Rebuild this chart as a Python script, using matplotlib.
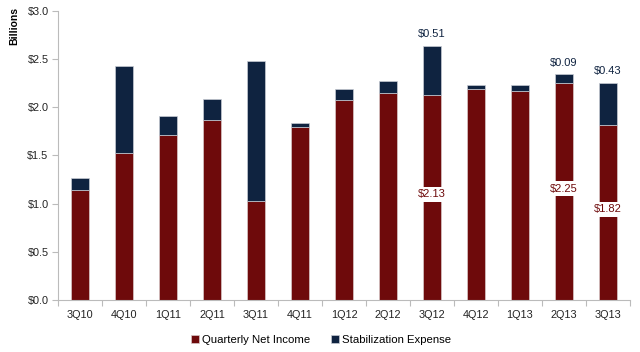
import numpy as np
import matplotlib
matplotlib.use("Agg")
import matplotlib.pyplot as plt
from matplotlib.ticker import FixedLocator, FuncFormatter

quarters = ["3Q10", "4Q10", "1Q11", "2Q11", "3Q11", "4Q11", "1Q12",
            "2Q12", "3Q12", "4Q12", "1Q13", "2Q13", "3Q13"]
net_income = [1.14, 1.52, 1.71, 1.87, 1.03, 1.79, 2.07, 2.15, 2.13, 2.19, 2.17, 2.25, 1.82]
stabilization = [0.13, 0.91, 0.20, 0.22, 1.45, 0.05, 0.12, 0.12, 0.51, 0.04, 0.06, 0.09, 0.43]
labelled = ["3Q12", "2Q13", "3Q13"]

RED = "#6E0A0B"
NAVY = "#0F2340"

plt.rcParams["font.family"] = ["Liberation Sans", "DejaVu Sans"]
plt.rcParams["font.size"] = 7.8

fig = plt.figure(figsize=(6.4, 3.52), dpi=100)
ax = fig.add_axes([0.091, 0.148, 0.893, 0.821])

x = np.arange(len(quarters))
ax.bar(x, net_income, width=0.42, color=RED, edgecolor="#d8c8c8", linewidth=0.5,
       label="Quarterly Net Income", zorder=2)
ax.bar(x, stabilization, width=0.42, bottom=net_income, color=NAVY, edgecolor="#c8ccd4",
       linewidth=0.5, label="Stabilization Expense", zorder=2)

for i, q in enumerate(quarters):
    if q in labelled:
        top = net_income[i] + stabilization[i]
        ax.text(i, top + 0.07, f"${stabilization[i]:.2f}", ha="center", va="bottom",
                color=NAVY, fontsize=8)
        ax.text(i, net_income[i] / 2 + 0.03, f"${net_income[i]:.2f}", ha="center", va="center",
                color=RED, fontsize=8,
                bbox=dict(boxstyle="square,pad=0.2", fc="white", ec="none"), zorder=3)

ax.set_xlim(-0.5, len(quarters) - 0.5)
ax.set_ylim(0, 3.0)
ax.set_yticks(np.arange(0, 3.01, 0.5))
ax.yaxis.set_major_formatter(FuncFormatter(lambda v, p: f"${v:.1f}"))
ax.set_xticks(x)
ax.set_xticklabels(quarters)
ax.xaxis.set_minor_locator(FixedLocator(np.arange(-0.5, len(quarters), 1.0)))
ax.tick_params(axis="x", which="major", length=0, pad=7, colors="#222222")
ax.tick_params(axis="x", which="minor", length=4, color="#bbbbbb", width=0.8)
ax.tick_params(axis="y", length=4, color="#bbbbbb", width=0.8, colors="#222222", pad=3)
for side in ("top", "right"):
    ax.spines[side].set_visible(False)
for side in ("left", "bottom"):
    ax.spines[side].set_color("#bbbbbb")
    ax.spines[side].set_linewidth(0.8)

fig.text(0.022, 0.925, "Billions", rotation=90, ha="center", va="center",
         fontweight="bold", fontsize=7.5)

ax.legend(loc="upper center", bbox_to_anchor=(0.46, -0.085), ncol=2, frameon=False,
          handlelength=0.7, handleheight=0.7, handletextpad=0.3, columnspacing=1.8,
          fontsize=8.2)

fig.savefig("out.png", dpi=100)
